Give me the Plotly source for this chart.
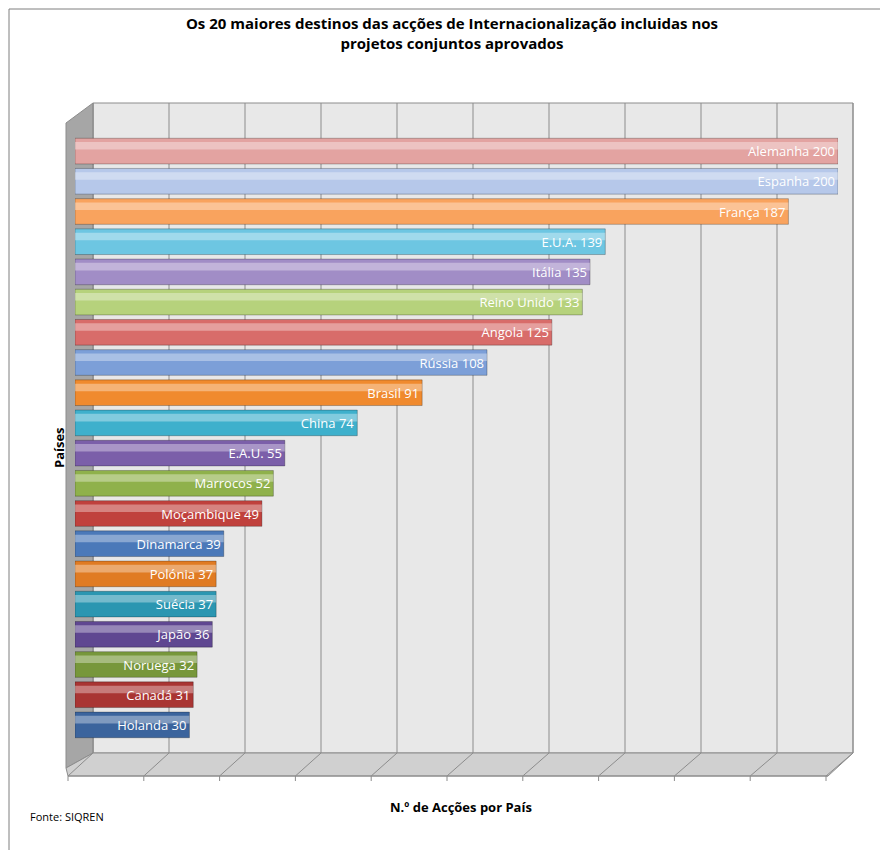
import plotly.graph_objects as go

paises = ["Alemanha", "Espanha", "França", "E.U.A.", "Itália", "Reino Unido", "Angola",
          "Rússia", "Brasil", "China", "E.A.U.", "Marrocos", "Moçambique", "Dinamarca",
          "Polónia", "Suécia", "Japão", "Noruega", "Canadá", "Holanda"]
accoes = [200, 200, 187, 139, 135, 133, 125, 108, 91, 74, 55, 52, 49, 39, 37, 37, 36, 32, 31, 30]
cores = ["#E3A3A1", "#B6C8EA", "#F9A35E", "#6DC6E2", "#A18DC6", "#B6D27C", "#D86C6A",
         "#7C9FD8", "#F08A2E", "#3EB0CC", "#7B5FA9", "#8FB14B", "#C0413D", "#4B79B9",
         "#E07B23", "#2B96B1", "#5F4791", "#77973B", "#A93533", "#3B649D"]

W, H = 888, 850
L, R, T, B = 67, 830, 128, 732  # plot area in pixels


def px(x):
    return (x - L) / (R - L)


def py(y):
    return (B - y) / (B - T)


fig = go.Figure()
fig.add_trace(go.Bar(
    y=paises, x=accoes, orientation="h", width=0.85,
    marker=dict(color=cores, line=dict(color="rgba(0,0,0,0.25)", width=1)),
    text=[f"{p} {v}" for p, v in zip(paises, accoes)],
    textposition="inside", insidetextanchor="end",
    textfont=dict(color="white", size=13, family="Open Sans"),
    hoverinfo="skip"))
# cylinder highlight
fig.add_trace(go.Bar(
    y=paises, x=accoes, orientation="h", width=0.25, offset=-0.3,
    marker=dict(color="rgba(255,255,255,0.35)", line=dict(width=0)),
    hoverinfo="skip"))

shapes = []
grey = "#8C8C8C"
# back wall, side wall, floor
shapes.append(dict(type="rect", xref="paper", yref="paper", x0=px(85), x1=px(845),
                   y0=py(745), y1=py(95), fillcolor="#E8E8E8", line=dict(color=grey, width=1),
                   layer="below"))
shapes.append(dict(type="path", xref="paper", yref="paper",
                   path=f"M {px(58)},{py(115)} L {px(85)},{py(95)} L {px(85)},{py(745)} L {px(58)},{py(760)} Z",
                   fillcolor="#A6A6A6", line=dict(color=grey, width=1), layer="below"))
shapes.append(dict(type="path", xref="paper", yref="paper",
                   path=f"M {px(58)},{py(760)} L {px(85)},{py(745)} L {px(845)},{py(745)} L {px(820)},{py(768)} L {px(60)},{py(768)} Z",
                   fillcolor="#D0D0D0", line=dict(color=grey, width=1), layer="below"))
for k in range(11):
    xb = 85 + 76 * k
    xf = 60 + 75.8 * k
    shapes.append(dict(type="line", xref="paper", yref="paper", x0=px(xb), x1=px(xb),
                       y0=py(95), y1=py(745), line=dict(color=grey, width=1), layer="below"))
    shapes.append(dict(type="line", xref="paper", yref="paper", x0=px(xb), x1=px(xf),
                       y0=py(745), y1=py(768), line=dict(color=grey, width=1), layer="below"))
    shapes.append(dict(type="line", xref="paper", yref="paper", x0=px(xf), x1=px(xf),
                       y0=py(768), y1=py(773), line=dict(color=grey, width=1)))
shapes.append(dict(type="line", xref="paper", yref="paper", x0=px(60), x1=px(820),
                   y0=py(768), y1=py(768), line=dict(color=grey, width=1)))
shapes.append(dict(type="rect", xref="paper", yref="paper", x0=px(1), x1=px(886),
                   y0=py(848), y1=py(1), line=dict(color="#7F7F7F", width=1)))

fig.update_layout(
    width=W, height=H, margin=dict(l=L, r=W - R, t=T, b=H - B),
    barmode="overlay", showlegend=False, bargap=0.15,
    paper_bgcolor="white", plot_bgcolor="rgba(0,0,0,0)",
    font=dict(family="Open Sans", color="black"),
    title=dict(text="<b>Os 20 maiores destinos das acções de Internacionalização incluidas nos<br>projetos conjuntos aprovados</b>",
               x=0.5, xanchor="center", y=0.975, yanchor="top", font=dict(size=15)),
    xaxis=dict(range=[0, 200], showticklabels=False, showgrid=False, zeroline=False),
    yaxis=dict(autorange="reversed", showticklabels=False, showgrid=False),
    shapes=shapes,
    annotations=[
        dict(text="<b>N.º de Acções por País</b>", xref="paper", yref="paper",
             x=px(453), y=py(810), showarrow=False, font=dict(size=13)),
        dict(text="<b>Países</b>", xref="paper", yref="paper", x=px(40), y=py(440),
             textangle=-90, showarrow=False, font=dict(size=13)),
        dict(text="Fonte: SIQREN", xref="paper", yref="paper", x=px(20), y=py(818),
             xanchor="left", showarrow=False, font=dict(size=11)),
    ])

fig.write_html("out.html")
